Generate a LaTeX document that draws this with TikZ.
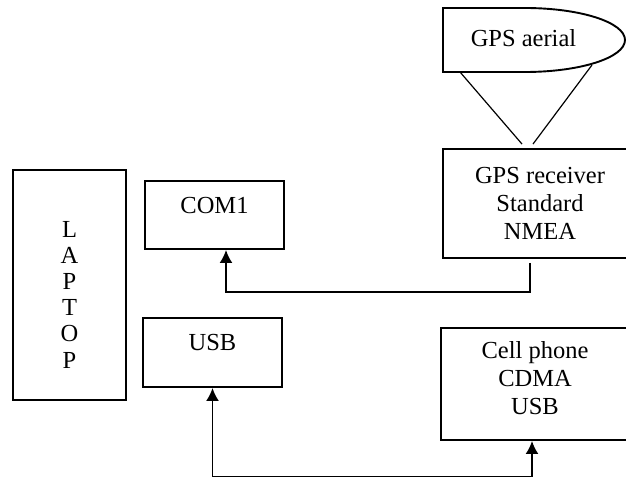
\documentclass[tikz,border=0pt]{standalone}
\usepackage{fontspec}
\setmainfont{Liberation Serif}
\usetikzlibrary{arrows.meta}
\tikzset{>={Latex[length=13pt,width=13pt]}}
\tikzset{
  unit/.style = {
    draw,
    line width=1.9pt,
    inner sep=0pt,
    align=center,
    font=\fontsize{24.5}{28}\selectfont
  },
  caption/.style = {inner sep=0pt, font=\fontsize{24.5}{28}\selectfont},
  link/.style = {line width=1.9pt},
  mast/.style = {line width=1.2pt}
}

\begin{document}
\begin{tikzpicture}[x=1pt,y=-1pt]
    \path[use as bounding box, clip] (0,0) rectangle (626,478);
    % laptop and its ports
    \node[unit,minimum width=113pt,minimum height=230pt,
      font=\fontsize{24.5}{26.2}\selectfont,text height=166pt,text depth=0pt]
      (laptop) at (69.5,285) {L\\A\\P\\T\\O\\P};
    \node[unit,minimum width=139pt,minimum height=68pt,text depth=20pt]
      (com) at (214.5,215) {COM1};
    \node[unit,minimum width=139pt,minimum height=69pt,text depth=20pt]
      (usb) at (212.5,352.5) {USB};
    % devices on the right
    \node[unit,minimum width=194pt,minimum height=109pt]
      (rcv) at (540,203.5) {GPS receiver\\Standard\\NMEA};
    \node[unit,minimum width=188pt,minimum height=112pt,
      text height=60pt,text depth=0pt]
      (cell) at (535,384) {Cell phone\\CDMA\\USB};
    % aerial
    \draw[link] (443,72) -- (443,8) -- (525,8)
      arc[start angle=-90,end angle=90,x radius=100,y radius=32] -- cycle;
    \node[caption] (aerial) at (523.5,38) {GPS aerial};
    \coordinate (aerL) at (460,72);
    \coordinate (aerR) at (592,65);
    \draw[mast] (aerL) -- ([xshift=-18pt,yshift=4pt]rcv.north);
    \draw[mast] (aerR) -- ([xshift=-7pt,yshift=4pt]rcv.north);
    % links
    \coordinate (comturn) at (226,292);
    \draw[link,->] ([xshift=-10pt,yshift=-4pt]rcv.south) |- (comturn)
      -- (comturn |- com.south);
    \coordinate (usbturn) at (212.5,476.5);
    \draw[link,<->] ([xshift=-3pt]cell.south) |- (usbturn) -- (usb.south);
\end{tikzpicture}
\end{document}
